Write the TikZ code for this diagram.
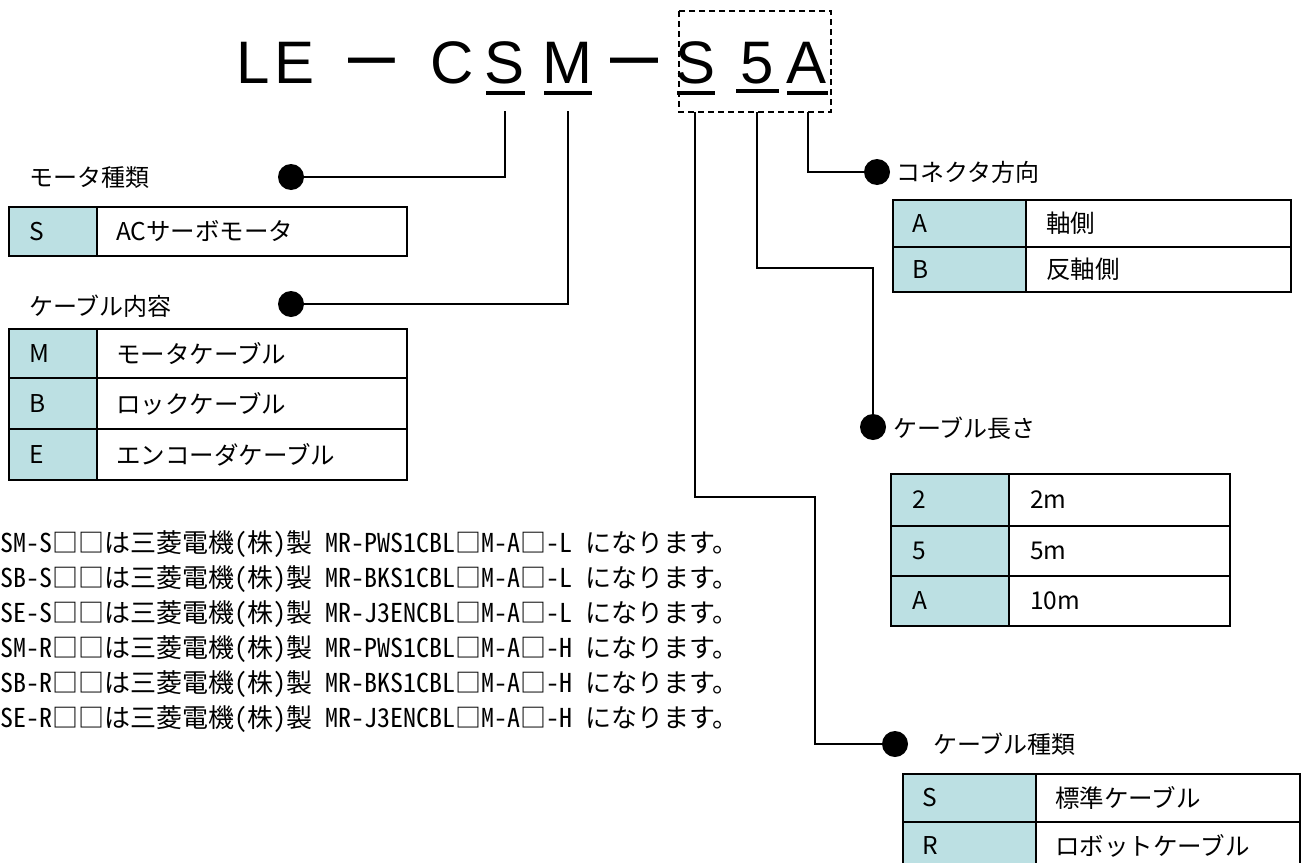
\documentclass[tikz,border=0pt]{standalone}
\usepackage{fontspec}
\newfontfamily\jp{Noto Sans CJK JP}
\newfontfamily\jpmono{Noto Sans CJK JP}[RawFeature=+hwid]
\newfontfamily\lat{Liberation Sans}
\definecolor{cyanfill}{HTML}{BCE0E3}
\begin{document}
\begin{tikzpicture}[x=1pt,y=-1pt,
  lbl/.style={font=\jp\fontsize{24}{28}\selectfont, anchor=west, inner sep=0},
  cell/.style={font=\jp\fontsize{24.5}{28}\selectfont, anchor=west, inner sep=0},
  note/.style={font=\jpmono\fontsize{26}{30}\selectfont, anchor=base west, inner sep=0},
  big/.style={font=\lat\fontsize{60}{70}\selectfont, anchor=base, inner sep=0},
  dot/.style={circle, fill=black, minimum size=26pt, inner sep=0},
  conn/.style={line width=1.5pt},
  ul/.style={line width=4pt},
  tbl/.style={line width=2.5pt},
  lcell/.style={fill=cyanfill},
]
\useasboundingbox (0,0) rectangle (1309,862);
\clip (0,0) rectangle (1309,862);

% ---- title code ----
\node[big] (tL) at (253,83) {L};
\node[big] (tE) at (295,83) {E};
\node[big] (tD1) at (371.5,80.3) {\scalebox{0.78}[1.3]{—}};
\node[big] (tC) at (452,83) {C};
\node[big] (tS) at (505,83) {S};
\node[big] (tM) at (567,83) {M};
\node[big] (tD2) at (634,80.3) {\scalebox{0.8}[1.3]{—}};
\node[big] (tS2) at (696,83) {S};
\node[big] (t5) at (757,83) {5};
\node[big] (tA) at (807,83) {A};

\draw[ul] (486,93) -- (525,93);
\draw[ul] (544,93) -- (592,93);
\draw[ul] (677,93) -- (715,93);
\draw[ul] (736,91) -- (779,91);
\draw[ul] (787,93) -- (828,93);

\draw[line width=1.5pt, dash pattern=on 6pt off 4pt] (679,11) rectangle (831,112);

% ---- connector ends ----
\coordinate (cS) at (505,111);
\coordinate (cM) at (568,111);
\coordinate (cS2) at (695,112);
\coordinate (c5) at (757,112);
\coordinate (cA) at (808,112);
\coordinate (k5) at (873,268);
\coordinate (k2) at (815,497);

\node[dot] (dS) at (291,177) {};
\node[dot] (dM) at (291,304) {};
\node[dot] (dA) at (877,172) {};
\node[dot] (d5) at (873,427) {};
\node[dot] (dT) at (895,744) {};

\draw[conn] (cS) |- (dS);
\draw[conn] (cM) |- (dM);
\draw[conn] (cA) |- (dA);
\draw[conn] (c5) |- (k5) -- (d5);
\draw[conn] (cS2) |- (k2) |- (dT);

% ---- labels ----
\node[lbl] (lS) at (29,178) {モータ種類};
\node[lbl] (lM) at (29,306) {ケーブル内容};
\node[lbl] (lA) at (896,172) {コネクタ方向};
\node[lbl] (l5) at (893,428) {ケーブル長さ};
\node[lbl] (lT) at (933,744) {ケーブル種類};

% ---- table: motor type ----
\fill[lcell] (9,207) rectangle (97,256);
\draw[tbl] (9,207) rectangle (407,256);
\draw[tbl] (97,207) -- (97,256);
\node[cell] (m1a) at (29,231.5) {S};
\node[cell] (m1b) at (116,231.5) {ACサーボモータ};

% ---- table: cable content ----
\fill[lcell] (9,329) rectangle (97,480);
\draw[tbl] (9,329) rectangle (407,480);
\draw[tbl] (97,329) -- (97,480);
\draw[tbl] (9,378) -- (407,378);
\draw[tbl] (9,429) -- (407,429);
\node[cell] (c1a) at (29,353.5) {M};
\node[cell] (c1b) at (116,353.5) {モータケーブル};
\node[cell] (c2a) at (29,403.5) {B};
\node[cell] (c2b) at (116,403.5) {ロックケーブル};
\node[cell] (c3a) at (29,454.5) {E};
\node[cell] (c3b) at (116,454.5) {エンコーダケーブル};

% ---- table: connector direction ----
\fill[lcell] (893,200) rectangle (1026,292);
\draw[tbl] (893,200) rectangle (1291,292);
\draw[tbl] (1026,200) -- (1026,292);
\draw[tbl] (893,247) -- (1291,247);
\node[cell] (a1a) at (912,223.5) {A};
\node[cell] (a1b) at (1046,223.5) {軸側};
\node[cell] (a2a) at (912,269.5) {B};
\node[cell] (a2b) at (1046,269.5) {反軸側};

% ---- table: cable length ----
\fill[lcell] (891,474) rectangle (1009,626);
\draw[tbl] (891,474) rectangle (1230,626);
\draw[tbl] (1009,474) -- (1009,626);
\draw[tbl] (891,526) -- (1230,526);
\draw[tbl] (891,576) -- (1230,576);
\node[cell] (n1a) at (912,500) {2};
\node[cell] (n1b) at (1030,500) {2m};
\node[cell] (n2a) at (912,551) {5};
\node[cell] (n2b) at (1030,551) {5m};
\node[cell] (n3a) at (912,601) {A};
\node[cell] (n3b) at (1030,601) {10m};

% ---- table: cable type ----
\fill[lcell] (903,774) rectangle (1036,870);
\draw[tbl] (903,774) rectangle (1300,870);
\draw[tbl] (1036,774) -- (1036,870);
\draw[tbl] (903,822) -- (1300,822);
\node[cell] (s1a) at (922,798) {S};
\node[cell] (s1b) at (1055,798) {標準ケーブル};
\node[cell] (s2a) at (922,846) {R};
\node[cell] (s2b) at (1055,846) {ロボットケーブル};

% ---- notes ----
\node[note] (r1) at (0,552) {SM-S□□は三菱電機(株)製 MR-PWS1CBL□M-A□-L になります。};
\node[note] (r2) at (0,587) {SB-S□□は三菱電機(株)製 MR-BKS1CBL□M-A□-L になります。};
\node[note] (r3) at (0,622) {SE-S□□は三菱電機(株)製 MR-J3ENCBL□M-A□-L になります。};
\node[note] (r4) at (0,657) {SM-R□□は三菱電機(株)製 MR-PWS1CBL□M-A□-H になります。};
\node[note] (r5) at (0,692) {SB-R□□は三菱電機(株)製 MR-BKS1CBL□M-A□-H になります。};
\node[note] (r6) at (0,727) {SE-R□□は三菱電機(株)製 MR-J3ENCBL□M-A□-H になります。};
\end{tikzpicture}
\end{document}
